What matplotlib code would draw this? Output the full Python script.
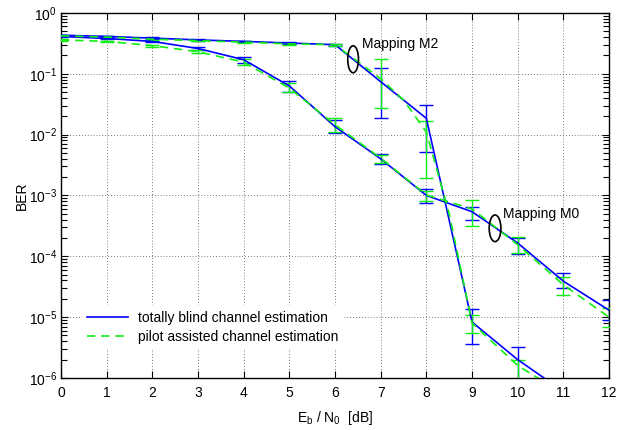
import matplotlib
matplotlib.use("Agg")
import matplotlib.pyplot as plt
import numpy as np
from matplotlib.patches import Ellipse
from matplotlib.ticker import LogLocator, NullFormatter, FixedLocator, LogFormatterSciNotation

plt.rcParams['font.family'] = ['Liberation Sans', 'DejaVu Sans']
plt.rcParams['mathtext.fontset'] = 'custom'
plt.rcParams['mathtext.rm'] = 'Liberation Sans'
plt.rcParams['mathtext.it'] = 'Liberation Sans:italic'
plt.rcParams['mathtext.bf'] = 'Liberation Sans:bold'

# ---------------- data ----------------
snr = [0, 1, 2, 3, 4, 5, 6, 7, 8, 9, 10, 11, 12]

# Mapping M0
m0_blind = [0.41, 0.38, 0.34, 0.26, 0.17, 0.063, 0.0135, 0.0040, 0.0010, 5.4e-4, 1.65e-4, 3.9e-5, 1.3e-5]
m0_blind_lo = [0.40, 0.37, 0.33, 0.25, 0.15, 0.050, 0.0105, 0.0033, 7.4e-4, 4.0e-4, 1.1e-4, 3.0e-5, 9e-6]
m0_blind_hi = [0.42, 0.39, 0.35, 0.27, 0.19, 0.077, 0.0175, 0.0048, 1.3e-3, 6.5e-4, 2.0e-4, 5.3e-5, 1.9e-5]

m0_pilot = [0.36, 0.34, 0.29, 0.23, 0.155, 0.058, 0.0145, 0.0041, 0.00102, 6.0e-4, 1.55e-4, 3.4e-5, 1.0e-5]
m0_pilot_lo = [0.35, 0.33, 0.28, 0.22, 0.14, 0.050, 0.0112, 0.0034, 8.1e-4, 3.1e-4, 1.15e-4, 2.3e-5, 7e-6]
m0_pilot_hi = [0.37, 0.35, 0.30, 0.25, 0.175, 0.070, 0.0187, 0.0047, 1.18e-3, 8.4e-4, 2.1e-4, 4.5e-5, 1.4e-5]

# Mapping M2
m2_snr = [0, 1, 2, 3, 4, 5, 6, 7, 8, 9, 10, 11]
m2_blind = [0.43, 0.41, 0.385, 0.36, 0.34, 0.32, 0.30, 0.074, 0.0185, 8.3e-6, 2.0e-6, 6e-7]
m2_blind_lo = [0.42, 0.40, 0.375, 0.35, 0.33, 0.31, 0.29, 0.019, 0.0051, 3.6e-6, 1e-7, 1e-7]
m2_blind_hi = [0.44, 0.42, 0.395, 0.37, 0.35, 0.33, 0.31, 0.124, 0.031, 1.35e-5, 3.2e-6, 7e-7]

m2_pilot_snr = [0, 1, 2, 3, 4, 5, 6, 7, 7.5, 8, 8.5, 9, 10, 11]
m2_pilot = [0.42, 0.40, 0.37, 0.35, 0.33, 0.31, 0.30, 0.083, 0.037, 0.011, 5e-4, 8e-6, 1.6e-6, 5.5e-7]
m2_pilot_eb_snr = [0, 1, 2, 3, 4, 5, 6, 7, 8, 9, 10, 11]
m2_pilot_eb = [0.42, 0.40, 0.37, 0.35, 0.33, 0.31, 0.30, 0.083, 0.011, 8e-6, 1.6e-6, 5.5e-7]
m2_pilot_lo = [0.41, 0.39, 0.36, 0.34, 0.32, 0.30, 0.29, 0.027, 0.0019, 5.5e-6, 1e-7, 1e-7]
m2_pilot_hi = [0.43, 0.41, 0.38, 0.36, 0.34, 0.32, 0.31, 0.175, 0.017, 1.1e-5, 2.0e-6, 6e-7]

xticks = list(range(0, 13))
yticks = [1e-6, 1e-5, 1e-4, 1e-3, 1e-2, 1e-1, 1e0]
legend_labels = ['totally blind channel estimation', 'pilot assisted channel estimation']

BLUE = '#0000ff'
GREEN = '#11ee11'

fig = plt.figure(figsize=(6.24, 4.30), dpi=100)
ax = fig.add_axes([0.0978, 0.121, 0.8782, 0.849])


def eb(x, c, lo, hi, color):
    c = np.asarray(c); lo = np.asarray(lo); hi = np.asarray(hi)
    ax.errorbar(x, c, yerr=[c - lo, hi - c], fmt='none', ecolor=color,
                elinewidth=1.0, capsize=5, capthick=1.0, zorder=3)


# blind (blue)
l1, = ax.semilogy(snr, m0_blind, '-', color=BLUE, lw=1.2, zorder=4)
ax.semilogy(m2_snr, m2_blind, '-', color=BLUE, lw=1.2, zorder=4)
eb(snr, m0_blind, m0_blind_lo, m0_blind_hi, BLUE)
eb(m2_snr, m2_blind, m2_blind_lo, m2_blind_hi, BLUE)

# pilot (green)
l2, = ax.semilogy(snr, m0_pilot, '--', color=GREEN, lw=1.2, dashes=(5, 3.5), zorder=5)
ax.semilogy(m2_pilot_snr, m2_pilot, '--', color=GREEN, lw=1.2, dashes=(5, 3.5), zorder=5)
eb(snr, m0_pilot, m0_pilot_lo, m0_pilot_hi, GREEN)
eb(m2_pilot_eb_snr, m2_pilot_eb, m2_pilot_lo, m2_pilot_hi, GREEN)

ax.set_xlim(0, 12)
ax.set_ylim(1e-6, 1)
ax.xaxis.set_major_locator(FixedLocator(xticks))
ax.set_xticklabels([str(t) for t in xticks])
ax.yaxis.set_major_locator(FixedLocator(yticks))
ax.yaxis.set_major_formatter(LogFormatterSciNotation())
ax.yaxis.set_minor_locator(LogLocator(base=10, subs=np.arange(2, 10), numticks=20))
ax.yaxis.set_minor_formatter(NullFormatter())

ax.grid(True, which='major', linestyle=(0, (1, 2.5)), color='0.3', linewidth=0.6)
ax.tick_params(which='both', direction='in', top=True, right=True, labelsize=10)
ax.tick_params(which='major', length=5, width=0.8)
ax.tick_params(which='minor', length=4, width=0.8)
ax.tick_params(axis='x', pad=6)
ax.tick_params(axis='y', pad=3)
for s in ax.spines.values():
    s.set_linewidth(1.0)

ax.set_xlabel('E$_\\mathregular{b}$ / N$_\\mathregular{0}$  [dB]', fontsize=10, labelpad=6)
ax.set_ylabel('BER', fontsize=10, labelpad=0)

leg = ax.legend([l1, l2], legend_labels, loc='upper left', bbox_to_anchor=(0.0366, 0.2),
                borderaxespad=0, frameon=True, fancybox=False, edgecolor='none',
                facecolor='white', framealpha=1, fontsize=10, handlelength=3.0,
                handletextpad=0.7, labelspacing=0.37, borderpad=0.4)
leg.set_zorder(6)

# annotations
e1 = Ellipse((0.533, 0.873), 0.0196, 0.074, transform=ax.transAxes,
             fill=False, edgecolor='black', lw=1.2, zorder=7)
e2 = Ellipse((0.792, 0.410), 0.0214, 0.073, transform=ax.transAxes,
             fill=False, edgecolor='black', lw=1.2, zorder=7)
ax.add_patch(e1)
ax.add_patch(e2)
ax.text(0.550, 0.904, 'Mapping M2', transform=ax.transAxes, fontsize=10,
        va='baseline', ha='left', zorder=7)
ax.text(0.806, 0.438, 'Mapping M0', transform=ax.transAxes, fontsize=10,
        va='baseline', ha='left', zorder=7)

fig.savefig('out.png', dpi=100)
